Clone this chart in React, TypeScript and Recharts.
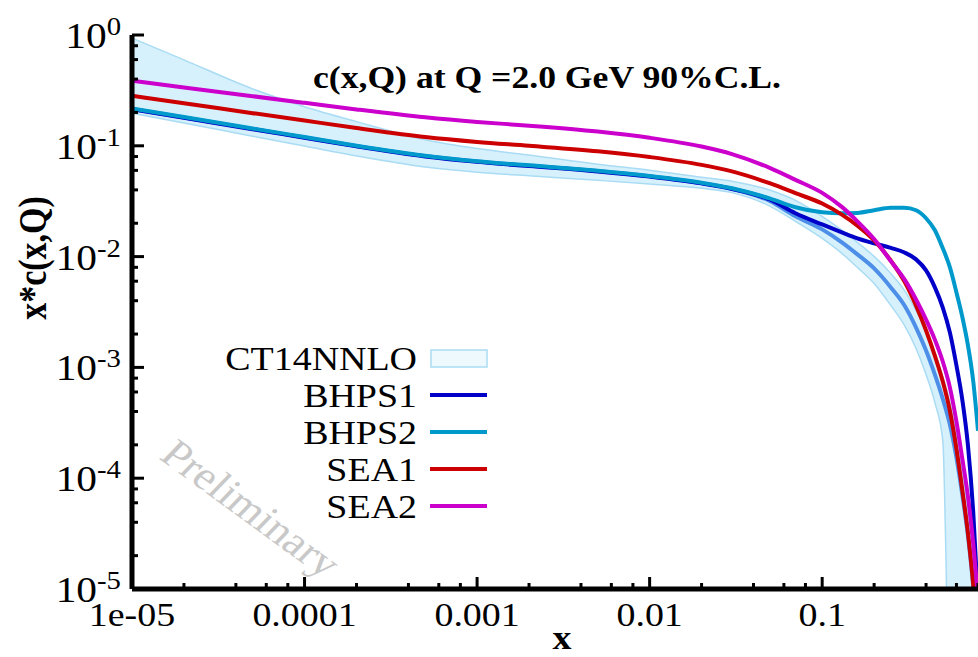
import React from 'react';
import { ComposedChart, XAxis, YAxis, Line, Area } from 'recharts';

// x grid (log scale, 1e-5 .. 0.8)
const xs = [
  1e-5, 2e-5, 5e-5, 1e-4, 2e-4, 5e-4, 1e-3, 2e-3, 5e-3, 0.01,
  0.02, 0.03, 0.05, 0.07, 0.1, 0.13, 0.16, 0.2, 0.25, 0.3,
  0.35, 0.4, 0.45, 0.5, 0.55, 0.6, 0.65, 0.7, 0.75, 0.8,
];

// CT14NNLO 90% C.L. band and central value
const ct14Low = [
  0.1971, 0.1604, 0.1221, 0.0994, 0.0809, 0.0643, 0.0577, 0.0536, 0.0488, 0.0452,
  0.0413, 0.0378, 0.0284, 0.0208, 0.0146, 0.0107, 0.00799, 0.00572, 0.00362, 0.00239,
  0.00148, 8.61e-4, 4.81e-4, 2.18e-4, 1e-6, 1e-6, 1e-6, 1e-6, 1e-6, 1e-6,
];
const ct14High = [
  0.9394, 0.5967, 0.3263, 0.2253, 0.1652, 0.1135, 0.0945, 0.0825, 0.0682, 0.0602,
  0.052, 0.0479, 0.0397, 0.0322, 0.0231, 0.0173, 0.01344, 0.01004, 0.00705, 0.00495,
  0.00326, 0.00215, 0.00136, 8.26e-4, 4.81e-4, 2.42e-4, 1.12e-4, 5.07e-5, 1.61e-5, 3.4e-6,
];
const ct14Central = [
  0.2155, 0.18, 0.1421, 0.119, 0.0995, 0.0808, 0.0721, 0.0661, 0.0591, 0.053,
  0.046, 0.041, 0.0316, 0.0231, 0.0176, 0.01344, 0.01047, 0.00782, 0.00527, 0.00362,
  0.00229, 0.00142, 8.6e-4, 5.2e-4, 3.04e-4, 1.53e-4, 6.93e-5, 3.01e-5, 1.06e-5, 2.7e-6,
];

const bhps1 = [
  0.214, 0.179, 0.1413, 0.1182, 0.0988, 0.0802, 0.0716, 0.0657, 0.0587, 0.0527,
  0.0458, 0.0408, 0.0326, 0.0246, 0.0195, 0.01655, 0.0146, 0.01316, 0.01199, 0.0109,
  0.00944, 0.0075, 0.00527, 0.00347, 0.00206, 0.00104, 5.01e-4, 1.96e-4, 5.07e-5, 7.8e-6,
];
const bhps2 = [
  0.2175, 0.1817, 0.1434, 0.1199, 0.1002, 0.0814, 0.0726, 0.0666, 0.0595, 0.0534,
  0.0464, 0.0414, 0.0334, 0.0279, 0.0251, 0.0246, 0.0248, 0.0262, 0.0276, 0.0276,
  0.0262, 0.0222, 0.0173, 0.0119, 0.00799, 0.00475, 0.00282, 0.00157, 7.6e-4, 2.68e-4,
];
const sea1 = [
  0.2826, 0.2422, 0.1971, 0.1689, 0.1448, 0.1201, 0.1084, 0.1, 0.0892, 0.0792,
  0.0673, 0.0587, 0.0457, 0.0374, 0.0301, 0.0239, 0.019, 0.014, 0.00918, 0.00595,
  0.00361, 0.00215, 0.00127, 7.46e-4, 4.04e-4, 1.84e-4, 7.68e-5, 3.17e-5, 1.12e-5, 3.2e-6,
];
const sea2 = [
  0.386, 0.3365, 0.2803, 0.2443, 0.2129, 0.1806, 0.1641, 0.152, 0.1344, 0.1181,
  0.0984, 0.0841, 0.0629, 0.0493, 0.0376, 0.0281, 0.0208, 0.0144, 0.0091, 0.00622,
  0.0041, 0.0027, 0.00178, 0.00113, 6.57e-4, 3.24e-4, 1.47e-4, 6.79e-5, 2.6e-5, 8.46e-6,
];

// axis ticks
const xMajor = [1e-5, 1e-4, 1e-3, 0.01, 0.1];
const xMajorLabels = ['1e-05', '0.0001', '0.001', '0.01', '0.1'];
const yMajor = [1e-5, 1e-4, 1e-3, 1e-2, 1e-1, 1];
const yExponents = ['-5', '-4', '-3', '-2', '-1', '0'];
const minorSteps = [2, 4, 6, 8];

const legendNames = ['CT14NNLO', 'BHPS1', 'BHPS2', 'SEA1', 'SEA2'];

const X_MAX = 0.8;
const C = {
  band: '#d6f1fc',
  bandEdge: '#a9dcf4',
  central: '#4d8fe8',
  bhps1: '#0000c8',
  bhps2: '#0099cc',
  sea1: '#cc0000',
  sea2: '#cc00cc',
};
const legendColors = [C.band, C.bhps1, C.bhps2, C.sea1, C.sea2];

const FONT = '"Liberation Serif", "Times New Roman", serif';
const SX = 1.15; // the figure is stretched horizontally

const withMinors = (majors: number[], max: number) => {
  const out: number[] = [];
  majors.forEach((m) => {
    out.push(m);
    minorSteps.forEach((s) => {
      const v = Number((m * s).toPrecision(3));
      if (v <= max) out.push(v);
    });
  });
  return out.filter((v) => v <= max);
};
const xTicks = withMinors(xMajor, X_MAX);
const yTicks = withMinors(yMajor, 1);

const majorIndex = (list: number[], v: number) =>
  list.findIndex((m) => Math.abs(m - v) / m < 1e-6);

const rows = xs.map((x, i) => ({
  x,
  band: [ct14Low[i], ct14High[i]],
  ct14: ct14Central[i],
  bhps1: bhps1[i],
  bhps2: bhps2[i],
  sea1: sea1[i],
  sea2: sea2[i],
}));

const BottomTick = (props: any) => {
  const { x, y, payload } = props;
  const idx = majorIndex(xMajor, payload.value);
  const major = idx >= 0;
  return (
    <g>
      <line x1={x} x2={x} y1={y} y2={y - (major ? 12 : 6)} stroke="#000" strokeWidth={3} />
      {major && (
        <text
          transform={`translate(${x},${y + 37}) scale(${SX},1)`}
          textAnchor="middle"
          fontSize={33}
          fontFamily={FONT}
          fill="#000"
        >
          {xMajorLabels[idx]}
        </text>
      )}
    </g>
  );
};

const TopTick = (props: any) => {
  const { x, y, payload } = props;
  const major = majorIndex(xMajor, payload.value) >= 0;
  return <line x1={x} x2={x} y1={y} y2={y + (major ? 12 : 6)} stroke="#000" strokeWidth={3} />;
};

const LeftTick = (props: any) => {
  const { x, y, payload } = props;
  const idx = majorIndex(yMajor, payload.value);
  const major = idx >= 0;
  return (
    <g>
      <line x1={x} x2={x + (major ? 12 : 6)} y1={y} y2={y} stroke="#000" strokeWidth={3} />
      {major && (
        <text
          transform={`translate(${x - 11},${y + 13}) scale(${SX},1)`}
          textAnchor="end"
          fontSize={36}
          fontFamily={FONT}
          fill="#000"
        >
          10
          <tspan dy={-13} fontSize={25}>
            {yExponents[idx]}
          </tspan>
        </text>
      )}
    </g>
  );
};

const Overlay = () => (
  <svg
    width={978}
    height={657}
    style={{ position: 'absolute', left: 0, top: 0, pointerEvents: 'none' }}
    fontFamily={FONT}
  >
    <text
      transform={`translate(158,458) scale(${SX},1) rotate(40)`}
      fontSize={40}
      fill="#c8c8c8"
    >
      Preliminary
    </text>
    <text transform={`translate(313,88) scale(${SX},1)`} fontSize={31} fontWeight="bold">
      c(x,Q) at Q =2.0 GeV 90%C.L.
    </text>
    {legendNames.map((name, i) => {
      const base = 370 + i * 37;
      return (
        <g key={name}>
          <text
            transform={`translate(417,${base}) scale(${SX},1)`}
            textAnchor="end"
            fontSize={33}
          >
            {name}
          </text>
          {i === 0 ? (
            <rect x={431} y={base - 20} width={56} height={17} fill="#eef9fe" stroke={C.bandEdge} strokeWidth={1.5} />
          ) : (
            <line x1={430} x2={487} y1={base - 12} y2={base - 12} stroke={legendColors[i]} strokeWidth={4} />
          )}
        </g>
      );
    })}
    <text
      transform={`translate(46,258) scale(${SX},1) rotate(-90)`}
      textAnchor="middle"
      fontSize={34}
      fontWeight="bold"
    >
      x*c(x,Q)
    </text>
    <text transform={`translate(562,649) scale(${SX},1)`} textAnchor="middle" fontSize={33} fontWeight="bold">
      x
    </text>
  </svg>
);

export default function App() {
  const axisLine = { stroke: '#000', strokeWidth: 5 };
  return (
    <div style={{ position: 'absolute', left: 0, top: 0, width: 978, height: 657, background: '#fff' }}>
      <ComposedChart width={978} height={657} data={rows} margin={{ top: 35, right: 0, bottom: 0, left: 0 }}>
        <XAxis
          xAxisId="b"
          dataKey="x"
          type="number"
          scale="log"
          domain={[1e-5, X_MAX]}
          ticks={xTicks}
          interval={0}
          allowDataOverflow
          height={68}
          tickSize={0}
          tickMargin={0}
          tickLine={false}
          axisLine={axisLine}
          tick={(p: any) => <BottomTick {...p} />}
        />
        <XAxis
          xAxisId="t"
          orientation="top"
          dataKey="x"
          type="number"
          scale="log"
          domain={[1e-5, X_MAX]}
          ticks={xTicks}
          interval={0}
          allowDataOverflow
          height={0}
          tickSize={0}
          tickMargin={0}
          tickLine={false}
          axisLine={axisLine}
          tick={(p: any) => <TopTick {...p} />}
        />
        <YAxis
          yAxisId="l"
          type="number"
          scale="log"
          domain={[1e-5, 1]}
          ticks={yTicks}
          interval={0}
          allowDataOverflow
          width={132}
          tickSize={0}
          tickMargin={0}
          tickLine={false}
          axisLine={axisLine}
          tick={(p: any) => <LeftTick {...p} />}
        />
        <Area
          xAxisId="b"
          yAxisId="l"
          dataKey="band"
          type="monotone"
          stroke={C.bandEdge}
          strokeWidth={1.5}
          fill={C.band}
          fillOpacity={1}
          dot={false}
          activeDot={false}
          isAnimationActive={false}
        />
        <Line xAxisId="b" yAxisId="l" dataKey="ct14" type="monotone" stroke={C.central} strokeWidth={4} dot={false} isAnimationActive={false} />
        <Line xAxisId="b" yAxisId="l" dataKey="bhps1" type="monotone" stroke={C.bhps1} strokeWidth={4} dot={false} isAnimationActive={false} />
        <Line xAxisId="b" yAxisId="l" dataKey="bhps2" type="monotone" stroke={C.bhps2} strokeWidth={4} dot={false} isAnimationActive={false} />
        <Line xAxisId="b" yAxisId="l" dataKey="sea1" type="monotone" stroke={C.sea1} strokeWidth={4} dot={false} isAnimationActive={false} />
        <Line xAxisId="b" yAxisId="l" dataKey="sea2" type="monotone" stroke={C.sea2} strokeWidth={4} dot={false} isAnimationActive={false} />
      </ComposedChart>
      <Overlay />
    </div>
  );
}
